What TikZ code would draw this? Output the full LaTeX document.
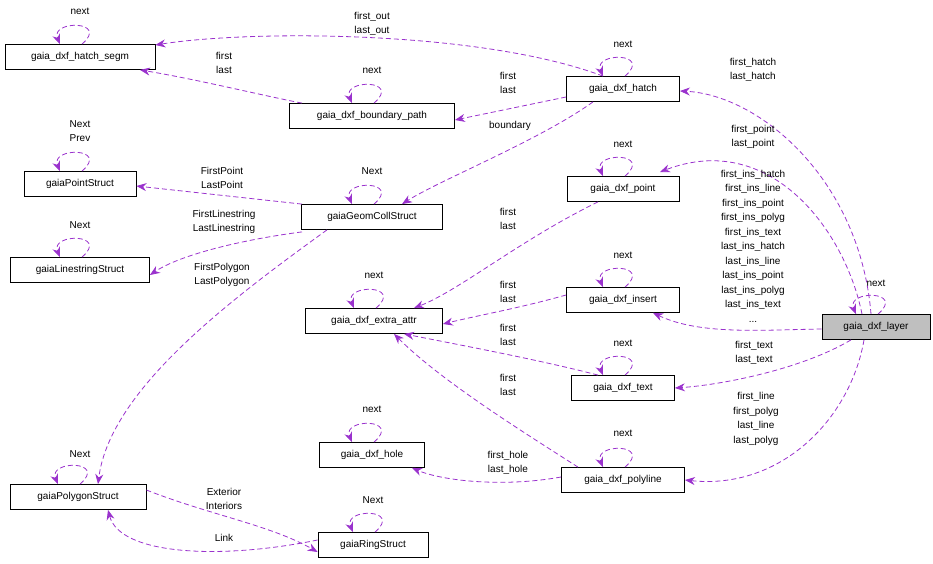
\documentclass[tikz,border=0pt]{standalone}
\usepackage{fontspec}
\setmainfont{Liberation Sans}
\usetikzlibrary{arrows.meta}
\definecolor{edgec}{HTML}{9A32CD}
\begin{document}
\begin{tikzpicture}[x=1pt,y=-1pt,
  box/.style={draw,thick,rectangle,inner sep=0pt,minimum height=25pt,font=\fontsize{10}{12}\selectfont},
  edge/.style={draw=edgec,thick,dash pattern=on 5pt off 3pt,-{Stealth[length=10pt,width=8pt]},shorten >=0pt},
  lbl/.style={font=\fontsize{10}{14.5}\selectfont,align=center,inner sep=0pt}]
\useasboundingbox (0,0) rectangle (933,564);
\node[box,minimum width=150pt] (segm) at (80,57) {gaia\_dxf\_hatch\_segm};
\node[box,minimum width=165pt] (bpath) at (372,116) {gaia\_dxf\_boundary\_path};
\node[box,minimum width=113pt] (hatch) at (623,89) {gaia\_dxf\_hatch};
\node[box,minimum width=112pt] (pts) at (80,184) {gaiaPointStruct};
\node[box,minimum width=141pt] (geom) at (372,217) {gaiaGeomCollStruct};
\node[box,minimum width=112pt] (point) at (623,189) {gaia\_dxf\_point};
\node[box,minimum width=139pt] (lns) at (80,270) {gaiaLinestringStruct};
\node[box,minimum width=137pt] (extra) at (374,321) {gaia\_dxf\_extra\_attr};
\node[box,minimum width=113pt] (insert) at (623,300) {gaia\_dxf\_insert};
\node[box,minimum width=108pt,fill=black!25] (layer) at (876,327) {gaia\_dxf\_layer};
\node[box,minimum width=103pt] (text) at (623,388) {gaia\_dxf\_text};
\node[box,minimum width=105pt] (hole) at (372,455) {gaia\_dxf\_hole};
\node[box,minimum width=123pt] (poly) at (623,480) {gaia\_dxf\_polyline};
\node[box,minimum width=136pt] (pgs) at (78,497) {gaiaPolygonStruct};
\node[box,minimum width=110pt] (ring) at (373,545) {gaiaRingStruct};

% self loops
\foreach \n in {segm,bpath,hatch,point,extra,insert,text,hole,poly,layer,geom,lns,pgs,ring,pts}{
  \draw[edge] ([xshift=2pt]\n.north) .. controls ([xshift=30pt,yshift=24pt]\n.north) and ([xshift=-30pt,yshift=24pt]\n.north) .. ([xshift=-20pt]\n.north);
}
\node[lbl] at (80,11) {next};
\node[lbl] at (372,70) {next};
\node[lbl] at (623,44) {next};
\node[lbl] at (623,144) {next};
\node[lbl] at (374,275) {next};
\node[lbl] at (623,255) {next};
\node[lbl] at (623,343) {next};
\node[lbl] at (372,409) {next};
\node[lbl] at (623,433) {next};
\node[lbl] at (876,283) {next};
\node[lbl] at (372,171) {Next};
\node[lbl] at (80,225) {Next};
\node[lbl] at (80,454) {Next};
\node[lbl] at (373,500) {Next};
\node[lbl] at (80,131) {Next\\Prev};

% edges
\draw[edge] ([xshift=-20pt]hatch.north) .. controls (480,30) and (250,30) .. (segm.east|-0,45);
\node[lbl] at (372,24) {first\_out\\last\_out};
\draw[edge] ([xshift=-70pt]bpath.north) .. controls (260,95) and (200,80) .. ([xshift=60pt]segm.south);
\node[lbl] at (224,63) {first\\last};
\draw[edge] ([yshift=-8pt]hatch.west) -- ([yshift=-4pt]bpath.east);
\node[lbl] at (508,83) {first\\last};
\draw[edge] ([xshift=-30pt]hatch.south) .. controls (540,140) and (440,180) .. ([xshift=30pt]geom.north);
\node[lbl] at (510,126) {boundary};
\draw[edge] ([xshift=-5pt]layer.north) .. controls (860,180) and (760,95) .. ([yshift=-2pt]hatch.east);
\node[lbl] at (753,70) {first\_hatch\\last\_hatch};
\draw[edge] ([xshift=-14pt]layer.north) .. controls (845,230) and (770,130) .. (660,172);
\node[lbl] at (753,137) {first\_point\\last\_point};
\draw[edge] ([yshift=-2pt]layer.west) .. controls (760,330) and (700,335) .. ([xshift=30pt]insert.south);
\node[lbl] at (753,246) {first\_ins\_hatch\\first\_ins\_line\\first\_ins\_point\\first\_ins\_polyg\\first\_ins\_text\\last\_ins\_hatch\\last\_ins\_line\\last\_ins\_point\\last\_ins\_polyg\\last\_ins\_text\\...};
\draw[edge] ([xshift=-25pt]layer.south) .. controls (800,370) and (720,385) .. (text.east);
\node[lbl] at (754,353) {first\_text\\last\_text};
\draw[edge] ([xshift=-12pt]layer.south) .. controls (850,420) and (780,490) .. (poly.east);
\node[lbl] at (756,419) {first\_line\\first\_polyg\\last\_line\\last\_polyg};
\draw[edge] ([xshift=-70pt]geom.north) -- ([yshift=-2pt]pts.east);
\node[lbl] at (222,178) {FirstPoint\\LastPoint};
\draw[edge] ([xshift=-70pt,yshift=-2pt]geom.south) .. controls (240,240) and (180,255) .. ([yshift=-5pt]lns.east);
\node[lbl] at (224,222) {FirstLinestring\\LastLinestring};
\draw[edge] ([xshift=-45pt]geom.south) .. controls (230,300) and (110,390) .. ([xshift=20pt]pgs.north);
\node[lbl] at (222,275) {FirstPolygon\\LastPolygon};
\draw[edge] ([xshift=-25pt]point.south) .. controls (520,240) and (460,290) .. ([xshift=40pt]extra.north);
\node[lbl] at (508,219) {first\\last};
\draw[edge] ([yshift=5pt]insert.west) .. controls (520,308) and (480,315) .. ([yshift=-3pt]extra.east);
\node[lbl] at (508,292) {first\\last};
\draw[edge] ([xshift=-25pt]text.north) .. controls (540,360) and (460,345) .. ([xshift=30pt]extra.south);
\node[lbl] at (508,335) {first\\last};
\draw[edge] ([xshift=-45pt]poly.north) .. controls (520,430) and (440,380) .. ([xshift=20pt]extra.south);
\node[lbl] at (508,385) {first\\last};
\draw[edge] ([yshift=3pt]poly.west) .. controls (500,488) and (440,480) .. ([xshift=40pt]hole.south);
\node[lbl] at (508,463) {first\_hole\\last\_hole};
\draw[edge] ([yshift=7pt]pgs.east) .. controls (210,515) and (270,525) .. ([yshift=-7pt]ring.west);
\node[lbl] at (224,499) {Exterior\\Interiors};
\draw[edge] ([yshift=5pt]ring.west) .. controls (220,560) and (120,555) .. ([xshift=30pt]pgs.south);
\node[lbl] at (224,538) {Link};
\end{tikzpicture}
\end{document}
